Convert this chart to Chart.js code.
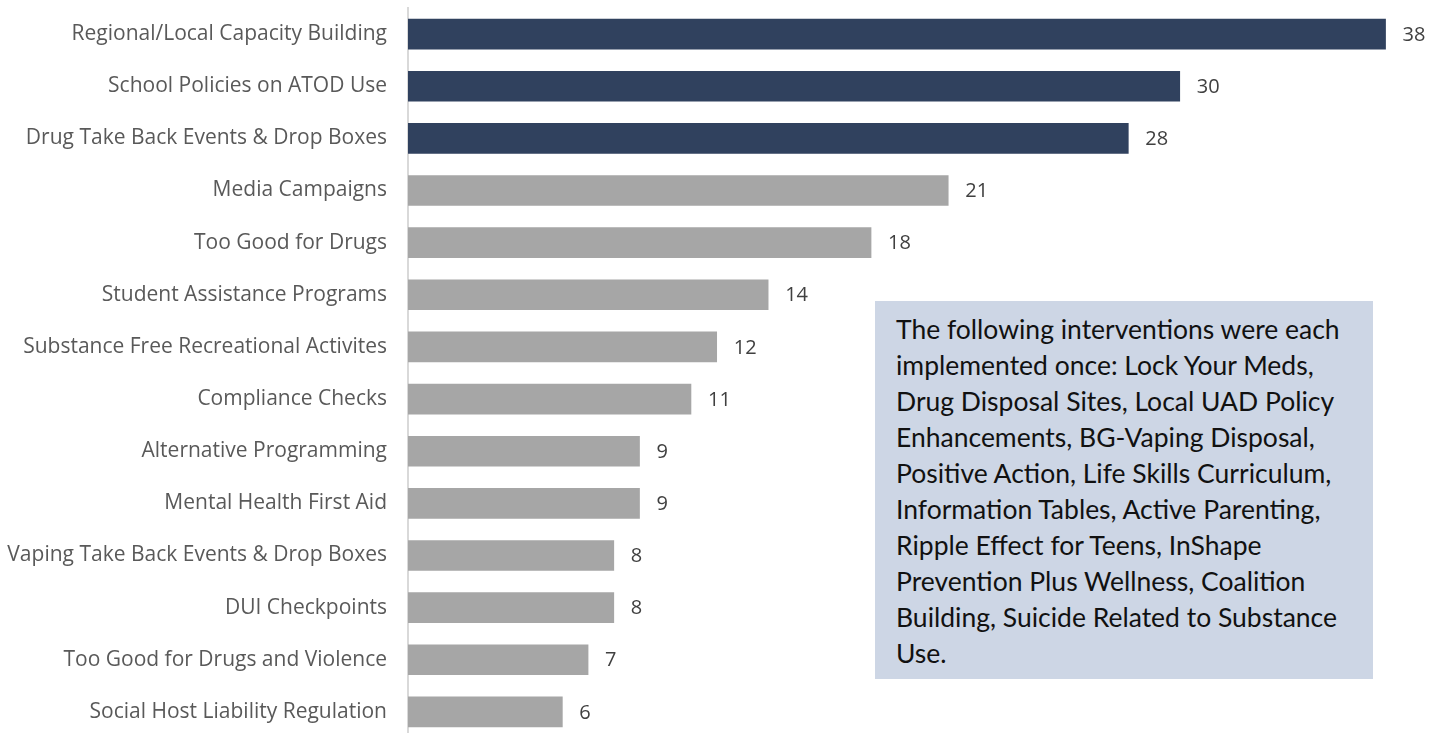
<!DOCTYPE html>
<html>
<head>
<meta charset="utf-8">
<script src="https://cdn.jsdelivr.net/npm/chart.js@4/dist/chart.umd.min.js"></script>
<style>
  html, body { margin: 0; padding: 0; background: #fff; overflow: hidden; }
  #wrap { position: relative; width: 1444px; height: 745px; }
  #note {
    position: absolute; left: 875px; top: 301px; width: 498px; height: 378px;
    box-sizing: border-box; background: #cdd6e5; padding: 10px 0 0 21px;
    font-family: Lato, 'Open Sans', sans-serif; font-size: 26.5px; line-height: 36px; color: #111;
    white-space: nowrap;
  }
</style>
</head>
<body>
<div id="wrap">
  <canvas id="chart-interventions"></canvas>
  <div id="note">The following interventions were each<br>implemented once: Lock Your Meds,<br>Drug Disposal Sites, Local UAD Policy<br>Enhancements, BG-Vaping Disposal,<br>Positive Action, Life Skills Curriculum,<br>Information Tables, Active Parenting,<br>Ripple Effect for Teens, InShape<br>Prevention Plus Wellness, Coalition<br>Building, Suicide Related to Substance<br>Use.</div>
</div>
<script>
  const categories = [
    'Regional/Local Capacity Building',
    'School Policies on ATOD Use',
    'Drug Take Back Events & Drop Boxes',
    'Media Campaigns',
    'Too Good for Drugs',
    'Student Assistance Programs',
    'Substance Free Recreational Activites',
    'Compliance Checks',
    'Alternative Programming',
    'Mental Health First Aid',
    'Vaping Take Back Events & Drop Boxes',
    'DUI Checkpoints',
    'Too Good for Drugs and Violence',
    'Social Host Liability Regulation',
  ];
  const counts = [38, 30, 28, 21, 18, 14, 12, 11, 9, 9, 8, 8, 7, 6];
  const highlighted = [true, true, true, false, false, false, false, false, false, false, false, false, false, false];

  const COLORS = { navy: '#30415e', gray: '#a6a6a6', label: '#595959', value: '#404040', axis: '#d9d9d9' };

  // value labels to the right of each bar
  const valueLabels = {
    id: 'valueLabels',
    afterDatasetsDraw(chart) {
      const { ctx } = chart;
      const meta = chart.getDatasetMeta(0);
      ctx.save();
      ctx.font = "20px 'Open Sans', sans-serif";
      ctx.fillStyle = COLORS.value;
      ctx.textBaseline = 'middle';
      ctx.textAlign = 'left';
      meta.data.forEach((bar, i) => {
        ctx.fillText(String(counts[i]), bar.x + 17, bar.y + 1);
      });
      ctx.restore();
    },
  };

  const canvas = document.getElementById('chart-interventions');
  canvas.width = 1444;
  canvas.height = 745;

  new Chart(canvas, {
    type: 'bar',
    data: {
      labels: categories,
      datasets: [{
        data: counts,
        backgroundColor: highlighted.map(h => h ? COLORS.navy : COLORS.gray),
        barThickness: 30,
        borderWidth: 0,
      }],
    },
    options: {
      indexAxis: 'y',
      responsive: false,
      animation: false,
      layout: { padding: { top: 8, right: 7, bottom: 7, left: 0 } },
      plugins: { legend: { display: false }, tooltip: { enabled: false } },
      scales: {
        x: {
          min: 0, max: 40,
          display: false,
        },
        y: {
          grid: { display: false, drawTicks: false },
          border: { display: true, color: COLORS.axis, width: 2 },
          afterFit: axis => {
            axis.width = 408;
            axis.paddingTop = 0;
            axis.paddingBottom = 0;
          },
          ticks: {
            padding: 21,
            color: COLORS.label,
            font: { family: "'Open Sans', sans-serif", size: 21 },
          },
        },
      },
    },
    plugins: [valueLabels],
  });
</script>
</body>
</html>
